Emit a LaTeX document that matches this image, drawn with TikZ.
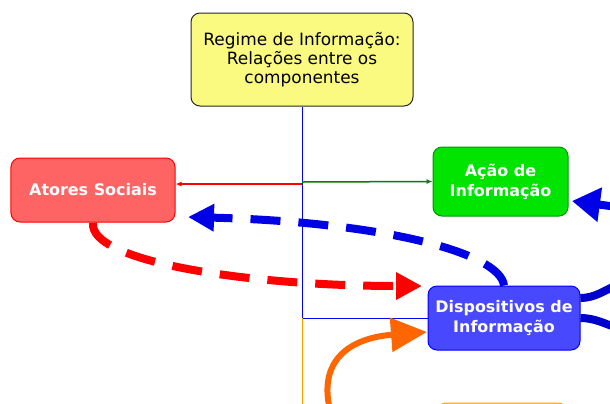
\documentclass[tikz,border=0pt]{standalone}
\usepackage{fontspec}
\setmainfont{DejaVu Sans}
\usetikzlibrary{arrows.meta}

\definecolor{regimefill}{RGB}{250,250,128}
\definecolor{atoresfill}{RGB}{255,100,100}
\definecolor{acaofill}{RGB}{0,228,0}
\definecolor{acaoline}{RGB}{0,150,0}
\definecolor{dispfill}{RGB}{72,72,255}
\definecolor{linkgreen}{RGB}{0,128,0}
\definecolor{flowblue}{RGB}{0,0,230}
\definecolor{floworange}{RGB}{255,102,0}
\definecolor{treeorange}{RGB}{255,160,0}

\tikzset{
  box/.style={rounded corners=9bp, align=center, line width=1bp,
    font=\fontsize{17}{19}\selectfont},
  boldbox/.style={box, text=white, font=\fontsize{16}{20}\selectfont\bfseries},
  flow/.style={line width=8bp, -{Triangle[length=26bp,width=26bp]}},
}

\begin{document}
\begin{tikzpicture}[x=1bp,y=-1bp]
\useasboundingbox (0,0) rectangle (610,403);

\node[box, fill=regimefill, draw=black!85, minimum width=222bp, minimum height=93bp] (regime) at (302,59.5) {Regime de Informação:\\Relações entre os\\componentes};
\node[boldbox, fill=atoresfill, draw=red, minimum width=164bp, minimum height=64bp] (atores) at (93,190) {Atores Sociais};
\node[boldbox, fill=acaofill, draw=acaoline, minimum width=135bp, minimum height=69bp] (acao) at (500.5,181.5) {Ação de\\Informação};
\node[boldbox, fill=dispfill, draw=blue, minimum width=152bp, minimum height=64bp] (disp) at (504,318) {Dispositivos de\\Informação};
\node[box, draw=treeorange, fill=treeorange!40, minimum width=130bp, minimum height=60bp] (next) at (502,433) {};

% tree lines
\coordinate (split) at (302,318);
\coordinate (redhub) at (302,184);
\coordinate (greenhub) at (302,182);
\draw[blue] (regime.south) -- (split) -- (disp.west);
\draw[treeorange] (split) |- (next.west);
\draw[red, line width=1.5bp, -{Latex[length=6bp,width=5bp]}] (redhub) -- (atores.east |- redhub);
\draw[linkgreen, line width=1.5bp, -{Latex[length=6bp,width=5bp]}] (greenhub) -- (acao.west);

% thick flows
\coordinate (atoresin) at (188,217);
\coordinate (dispin) at (422,286);
\draw[flow, flowblue, dash pattern=on 30bp off 18bp] (disp.north) .. controls (500,252) and (380,222) .. (atoresin);
\draw[flow, red, dash pattern=on 30bp off 18bp] (atores.south) .. controls (88,262) and (250,286) .. (dispin);

\coordinate (orangeout) at (330,410);
\coordinate (displeft) at (427,332);
\draw[floworange, line width=6bp, -{Triangle[length=36bp,width=33bp]}] (orangeout) .. controls (318,360) and (350,338) .. (displeft);

\coordinate (acaoin) at (572,201);
\coordinate (rightin) at (625,208);
\draw[flow, flowblue, -{Triangle[length=28bp,width=33bp]}] (rightin) -- (acaoin);

\coordinate (rightupper) at (615,286);
\coordinate (rightlower) at (615,327);
\draw[line width=8bp, blue!80!black] ([yshift=20bp]disp.east) .. controls (595,298) and (605,290) .. (rightupper);
\draw[line width=8bp, blue!80!black] (disp.east) .. controls (595,318) and (605,324) .. (rightlower);
\end{tikzpicture}
\end{document}
